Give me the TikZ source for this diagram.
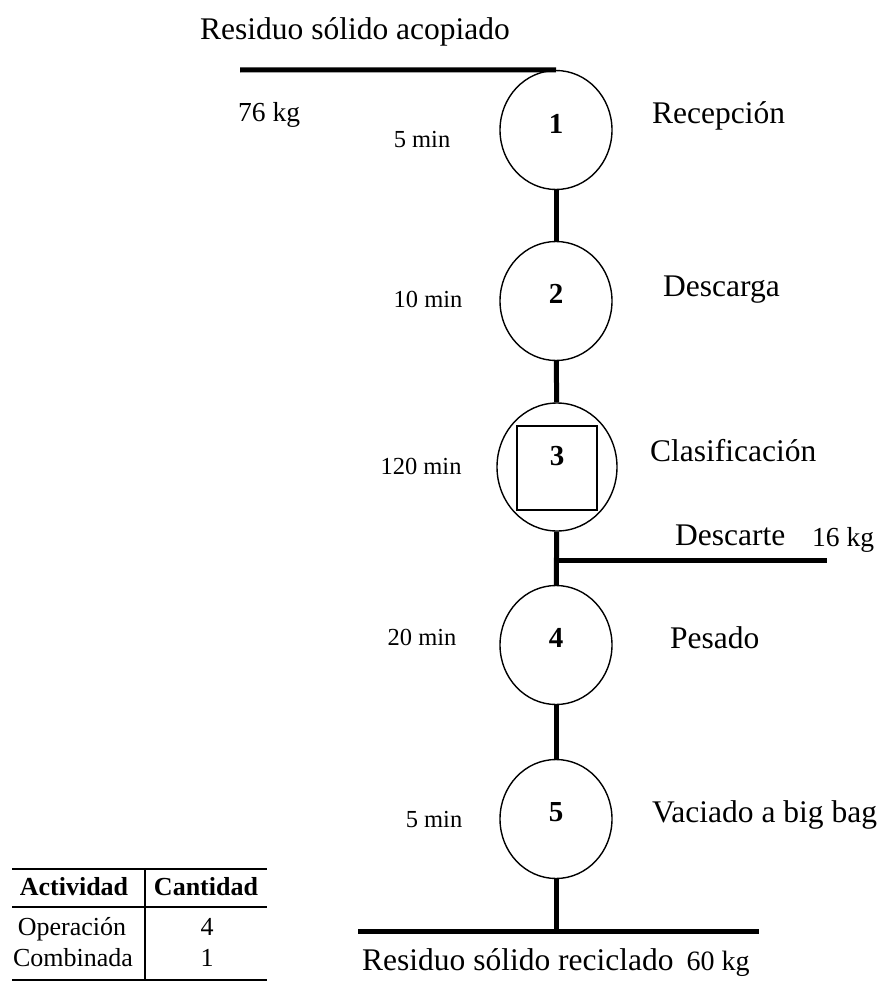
\documentclass[tikz,border=0pt]{standalone}
\usepackage{fontspec}
\setmainfont{Liberation Serif}
\usetikzlibrary{shapes.geometric}

\tikzset{
  op/.style={draw, ellipse, line width=1.4pt, inner sep=0pt,
             minimum width=112pt, minimum height=119pt},
  num/.style={font=\fontsize{29}{31}\selectfont\bfseries, inner sep=0pt},
  flow/.style={line width=5pt},
  lbl/.style={font=\fontsize{31.5}{34}\selectfont, inner sep=0pt,
              text height=0.68em, text depth=0.2em},
  qty/.style={font=\fontsize{27.5}{30}\selectfont, inner sep=0pt,
              text height=0.68em, text depth=0.2em},
  tm/.style={font=\fontsize{24.5}{26}\selectfont, inner sep=0pt,
             text height=0.68em, text depth=0.2em},
  tab/.style={font=\fontsize{26}{28}\selectfont, inner sep=0pt,
              text height=0.68em, text depth=0.2em},
  rule/.style={line width=2pt}
}

\begin{document}
\begin{tikzpicture}[x=1pt, y=-1pt]
\useasboundingbox (0,0) rectangle (884,982);

% operation circles along the main line
\node[op] (c1) at (556,130) {};
\node[op] (c2) at (556,301) {};
\node[op, minimum width=120pt, minimum height=128pt] (c3) at (557,467) {};
\node[op] (c4) at (556,645) {};
\node[op] (c5) at (556,819) {};

% square inside the combined activity
\node[draw, line width=1.4pt, minimum width=80pt, minimum height=84pt,
      inner sep=0pt] (sq) at (557,468) {};

% step numbers
\node[num] (n1) at (556,124) {1};
\node[num] (n2) at (556,294) {2};
\node[num] (n3) at (557,456) {3};
\node[num] (n4) at (556,638) {4};
\node[num] (n5) at (556,812) {5};

% input line
\coordinate (inL) at (240,70);
\draw[flow] (inL) -- (c1.north);

% main flow
\draw[flow] (c1) -- (c2);
\draw[flow] (c2) -- (c3);
\draw[flow] (c3) -- (c4);
\draw[flow] (c4) -- (c5);

% discard branch
\coordinate (dj) at (556,560);
\coordinate (dR) at (827,560);
\draw[flow] (dj) -- (dR);

% output line
\coordinate (outJ) at (556,931);
\coordinate (outL) at (358,931);
\coordinate (outR) at (759,931);
\draw[flow] (c5.south) -- (outJ);
\draw[flow] (outL) -- (outR);

% texts
\node[lbl, anchor=west] (tin) at (200,37) {Residuo sólido acopiado};
\node[qty, anchor=west] (kin) at (238,119) {76 kg};
\node[lbl, anchor=west] (l1) at (652,121) {Recepción};
\node[lbl, anchor=west] (l2) at (663,294) {Descarga};
\node[lbl, anchor=west] (l3) at (650,459) {Clasificación};
\node[lbl, anchor=west] (ld) at (675,543) {Descarte};
\node[qty, anchor=west] (kd) at (812,544) {16 kg};
\node[lbl, anchor=west] (l4) at (670,646) {Pesado};
\node[lbl, anchor=west] (l5) at (652,820) {Vaciado a big bag};
\node[lbl, anchor=west] (tout) at (362,968) {Residuo sólido reciclado\hspace{13pt}\fontsize{28}{30}\selectfont 60 kg};

\node[tm] (t1) at (422,145) {5 min};
\node[tm] (t2) at (428,305) {10 min};
\node[tm] (t3) at (421,472) {120 min};
\node[tm] (t4) at (422,643) {20 min};
\node[tm] (t5) at (434,825) {5 min};

% summary table
\draw[rule] (12,869) -- (267,869);
\draw[rule] (12,907) -- (267,907);
\draw[rule] (12,980) -- (267,980);
\draw[rule] (145,869) -- (145,980);
\node[tab, font=\fontsize{26}{28}\selectfont\bfseries] (h1) at (74,893) {Actividad};
\node[tab, font=\fontsize{26}{28}\selectfont\bfseries] (h2) at (206,893) {Cantidad};
\node[tab] (r1a) at (72,933) {Operación};
\node[tab] (r1b) at (207,933) {4};
\node[tab] (r2a) at (73,964) {Combinada};
\node[tab] (r2b) at (207,964) {1};
\end{tikzpicture}
\end{document}
